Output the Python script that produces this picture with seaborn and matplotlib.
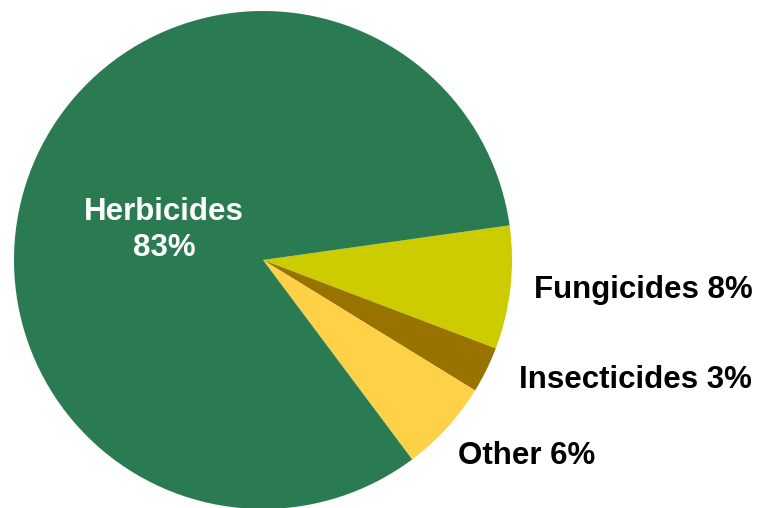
import seaborn as sns
import matplotlib
matplotlib.use("Agg")
import matplotlib.pyplot as plt

categories = ["Fungicides", "Insecticides", "Other", "Herbicides"]
shares = [8, 3, 6, 83]
colors = ["#CCCC00", "#997300", "#FFD147", "#2A7B52"]

sns.set_theme(style="white")
plt.rcParams['font.family'] = ['Liberation Sans', 'DejaVu Sans']

W, H = 759, 508
fig = plt.figure(figsize=(W / 100, H / 100), dpi=100)
ax = fig.add_axes([0, 0, 1, 1])

ax.pie(shares, colors=colors, startangle=8, counterclock=False,
       center=(263, H - 260), radius=249, frame=True,
       wedgeprops=dict(linewidth=0))
ax.set_xlim(0, W)
ax.set_ylim(0, H)
ax.set_aspect('equal')
ax.axis('off')

# labels (pixel positions from top-left)
label_pos = {"Herbicides": (164, 230), "Fungicides": (643, 290),
             "Insecticides": (635, 380), "Other": (527, 456)}
for cat, val in zip(categories, shares):
    x, y = label_pos[cat]
    if cat == "Herbicides":
        ax.text(x, H - y, f"{cat}\n{val}%", ha='center', va='center',
                fontsize=22.5, fontweight='bold', color='white', linespacing=1.3)
    else:
        ax.text(x, H - y, f"{cat} {val}%", ha='center', va='center',
                fontsize=22.5, fontweight='bold', color='black')

fig.savefig("out.png", dpi=100)
